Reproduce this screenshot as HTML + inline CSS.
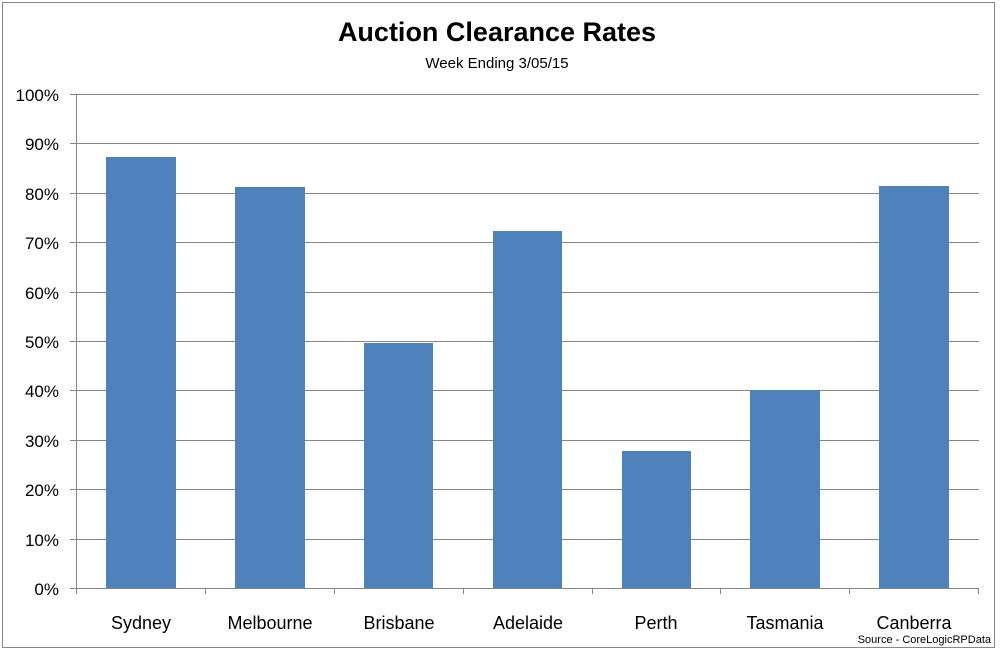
<!DOCTYPE html>
<html><head><style>body{margin:0;background:#fff}svg{display:block}</style></head><body>
<svg width="1000" height="652" xmlns="http://www.w3.org/2000/svg" font-family="Liberation Sans, sans-serif">
<rect x="2.5" y="2.5" width="992" height="645" fill="#fff" stroke="#888" stroke-width="1"/>
<text x="497" y="41" text-anchor="middle" font-size="27" font-weight="bold" fill="#000">Auction Clearance Rates</text>
<text x="497" y="68" text-anchor="middle" font-size="15" fill="#000">Week Ending 3/05/15</text>
<g stroke="#868686" stroke-width="1">
<line x1="70" y1="94.5" x2="979" y2="94.5"/><line x1="70" y1="143.5" x2="979" y2="143.5"/>
<line x1="70" y1="193.5" x2="979" y2="193.5"/><line x1="70" y1="242.5" x2="979" y2="242.5"/>
<line x1="70" y1="292.5" x2="979" y2="292.5"/><line x1="70" y1="341.5" x2="979" y2="341.5"/>
<line x1="70" y1="390.5" x2="979" y2="390.5"/><line x1="70" y1="440.5" x2="979" y2="440.5"/>
<line x1="70" y1="489.5" x2="979" y2="489.5"/><line x1="70" y1="539.5" x2="979" y2="539.5"/>
<line x1="76.5" y1="94" x2="76.5" y2="588"/>
</g>
<g fill="#4f81bd">
<rect x="106" y="157" width="70" height="431"/>
<rect x="235" y="187" width="70" height="401"/>
<rect x="364" y="343" width="69" height="245"/>
<rect x="493" y="231" width="69" height="357"/>
<rect x="622" y="451" width="69" height="137"/>
<rect x="750" y="390" width="70" height="198"/>
<rect x="879" y="186" width="70" height="402"/>
</g>
<g stroke="#868686" stroke-width="1">
<line x1="70" y1="588.5" x2="979" y2="588.5"/>
<line x1="76.5" y1="588" x2="76.5" y2="594"/><line x1="205.5" y1="588" x2="205.5" y2="594"/>
<line x1="334.5" y1="588" x2="334.5" y2="594"/><line x1="463.5" y1="588" x2="463.5" y2="594"/>
<line x1="592.5" y1="588" x2="592.5" y2="594"/><line x1="720.5" y1="588" x2="720.5" y2="594"/>
<line x1="849.5" y1="588" x2="849.5" y2="594"/><line x1="978.5" y1="588" x2="978.5" y2="594"/>
</g>
<g font-size="17" fill="#000" text-anchor="end">
<text x="59" y="101">100%</text><text x="59" y="150">90%</text><text x="59" y="200">80%</text>
<text x="59" y="249">70%</text><text x="59" y="299">60%</text><text x="59" y="348">50%</text>
<text x="59" y="397">40%</text><text x="59" y="447">30%</text><text x="59" y="496">20%</text>
<text x="59" y="546">10%</text><text x="59" y="595">0%</text>
</g>
<g font-size="18" fill="#000" text-anchor="middle">
<text x="141" y="629">Sydney</text><text x="270" y="629">Melbourne</text><text x="399" y="629">Brisbane</text>
<text x="528" y="629">Adelaide</text><text x="656" y="629">Perth</text><text x="785" y="629">Tasmania</text>
<text x="914" y="629">Canberra</text>
</g>
<text x="991" y="643" text-anchor="end" font-size="11" fill="#000">Source - CoreLogicRPData</text>
</svg>
</body></html>
